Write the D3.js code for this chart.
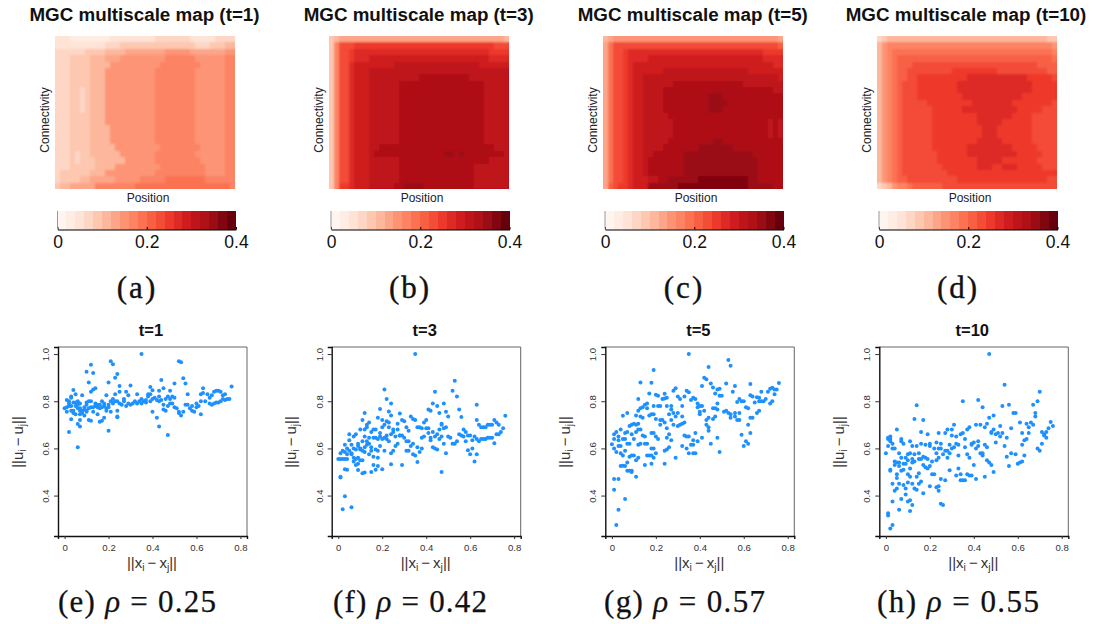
<!DOCTYPE html>
<html><head><meta charset="utf-8">
<script src="https://cdnjs.cloudflare.com/ajax/libs/d3/7.8.5/d3.min.js"></script>
<style>html,body{margin:0;padding:0;background:#fff}svg{display:block}text{font-family:"Liberation Sans",Arial,sans-serif}.cap{font-family:"Liberation Serif",serif}</style>
</head><body><div id="chart"></div>
<script>
const heatTitles=["MGC multiscale map (t=1)","MGC multiscale map (t=3)","MGC multiscale map (t=5)","MGC multiscale map (t=10)"];
const heatCaptions=["(a)","(b)","(c)","(d)"];
const scatterTitles=["t=1","t=3","t=5","t=10"];
const scatterCaptions=[["(e)","0.25"],["(f)","0.42"],["(g)","0.57"],["(h)","0.55"]];
const barTicks=[0,0.2,0.4];
const xTicks=[0,0.2,0.4,0.6,0.8];
const yTicks=[0.4,0.6,0.8,1.0];
const reds=["#fff5f0","#fee0d2","#fcbba1","#fc9272","#fb6a4a","#ef3b2c","#cb181d","#a50f15","#67000d"];

// heat levels: one character per cell, each step is 0.02 of the colour scale
const map1=["222111111112222222223333333222223333","222222222233344444444444444433344455","333333444455556666666677777666666677","333444455566677777777788888877777788","333444455557777777777888888887777788","333444455577777777778888888877777788","333444455577777777778888888877777788","333444455577777777778888888877777788","333443455577777777778888888877777788","333443455577777777778888888877777788","333443455577777777778888888877777788","333443455577777777778888888877777788","333444455577777777778888888877777788","333444455577777777778888888877777788","333444455557777777778888888877777788","333444455557777777778888888877777788","333444455557777777778888888877777788","333444455555777777777888888887777788","333434455555577777778888888877777788","333434445555557777778888888887777788","333444445555777777777888888888777788","344444455577777777778888888888777788","344445566666777778888899999999888888","455666668888888899999999999999999998"];
const map3=["456666666666666666666666666666666665","48bbbccccccccccccccccccccccccccccbbb","48bbcdddddddddddddddddddddddddddcccc","48bbcdddeeeeeeeeeeeeeeeeeeeeeeeedddd","48bbdeeeeeeeefffffffffffffffffeeeeee","48bbdeeeffffffffffffffffffffffffffff","48bbdeeeffffffffffggggggggggffffffff","48bbdeeeffffffgggggggggggggggggfffff","48bbdeeeffffffgggggggggggggggggfffff","48bbdeeeffffffgggggggggggggggggfffff","48bbdeeeffffffgggggggggggggggggfffff","48bbdeeeffffffgggggggggggggggggfffff","48bbdeeeffffffgggggggggggggggggfffff","48bbdeeeffffffgggggggggggggggggfffff","48bbdeeeffffffgggggggggggggggggfffff","48bbdeeeffffffgggggggggggggggggfffff","48bbdeeeffffffgggggggggggggggggfffff","48bbdeeeffgggggggggggggggggggggggfff","48bbdeeefgggggggggggggghhghggggggggff","48bbdeeeffffffggggggggggggggggggffff","48bbdeeeffffffgggggggggggggggfffffff","48bbdeeeffffffgggggggggggggggfffffff","48bbdeeeffffffgggggggggggggggfffffff","48ccdeeefffffgghhhhggggggggggfffffff"];
const map5=["567777777777777777777777777777777776","69bbbbbbbbbbbbbbbbbbbbbbbbbbbbbbbbba","69bbcdddddddddddddddddddddddddddcccc","69bbcddddeeeeeeeeeeeeeeeeeeeeeeedddd","69bbcdeeeeeeeeeeeeeeeeeeeeeeeeeeeedd","69bbcdeeeeeefffffffffffffffffeeeeeee","69bbcdeefffffffffffffffffffffffffffe","69bbcdeeffffffggggggggggggggffffffff","69bbcdeeffffggggggggggggggggggggggff","69bbcdeeffffggggggggghhhgggggggggggg","69bbcdeeffffggggggggghhhhggggggggggg","69bbcdeeffffggggggggghhhgggggggggggg","69bbcdeefffffggggggggggggggggggggggg","69bbcdeeffffffgggggggggggggggggggfgf","69bbcdeeffffffgggggggggggggggggggfgf","69bbcdeeffffffgggggggggggggggggggfgf","69bbcdeefffffggggggggghhgggggggggggg","69bbcdeeffffggggggghhhhhhhgggggggggg","69bbcdeeffgggggghhhhhhhhhhhhhhgggggg","69bbcdeefggggggghhhhhhhhhhhhhhhggggg","69bbcdeefggggggghhhhhhhhhhhhhhhggggg","69bbcdeefggggggghhhhhhhhhhhhhhhggggg","69bbcdeeeffgghhhhhhiiiiiiiiiihhgggggg","6abccdeeehhhhhhiiiiiiiiiiiiiihhhhhgg"];
const map10=["345555555555555555555555555555555544","578888888888888888888888888888888887","578999999999999999999999999999999998","5789aaaaaaaaaaaaaaaaaaaaaaaaaaaaaaa9","5789aaabbbbbbbbbbbbbbbbbbbbbbbbbaaaa","5789aabbbbbbbbbcccccccccbbbbbbbbbbaa","5789aabbccccccccccddddddddddddcccccb","5789abbbccccccccdddddddddddddddccccc","5789abbbccccccccdddddddddddddddccccc","5789abbbcccccccccddddddddddddccccccc","5789abbbbbcccccccccddddddddccccccccb","5789abbbbbbccccccdddddddddddcccccbbb","5789abbbbbbcccccccccdddddddccccbbbbb","5789abbbbbbcccccccccdddddccccccbbbbb","5789abbbbbbccccccccccdddcccccccbbbbb","5789abbbbbbccccccccccdddcccccccbbbbb","5789abbbbbbcccccccccdddddccccccbbbbb","5789abbbbbbcccccccdddddddddcccccbbbb","5789abbbbbbbccccccddddddddddcccccbbb","5789abbbbbbbccccccccdddddcccccccbbbb","5789abbbbbbbbcccccccdddccdddcccccbbb","5789abbbbbbbbbcccccccccccccccccccccc","5789aabbbbbbbbbbccccccccccccccccccbb","3457889aaaaaabbbbbbbbbbbbbbbbbbbbbbb"];
const heatMaps=[map1,map3,map5,map10];

const pts1=[[.35,1],[.12,.955],[.21,.97],[.22,.957],[.52,.97],[.53,.965],[.1,.925],[.13,.92],[.24,.916],[.23,.9],[.44,.89],[.54,.898],[.11,.88],[.2,.88],[.55,.875],[.5,.875],[.3,.867],[.25,.865],[.76,.862],[.14,.855],[.13,.85],[.12,.84],[.63,.855],[.45,.855],[.39,.86],[.4,.847],[.04,.848],[.43,.845],[.48,.845],
[.06,.605],[.02,.67],[.2,.675],[.47,.657],[.43,.693],[.07,.693],[.06,.703],[.42,.73],[.03,.724],[.07,.72],[.11,.72],[.12,.717],[.16,.713],[.17,.717],[.24,.732],[.18,.73],[.4,.755],[.62,.745],[.52,.755],[.53,.74],[.24,.735],
[0,.77],[.01,.775],[.01,.755],[.01,.805],[.02,.79],[.02,.78],[.02,.8],[.03,.76],[.03,.78],[.03,.815],[.03,.82],[.04,.795],[.04,.75],[.04,.76],[.05,.83],[.05,.78],[.05,.745],[.05,.795],[.06,.8],[.06,.77],[.06,.785],[.07,.79],[.07,.77],[.07,.76],[.07,.745],[.08,.76],[.08,.75],[.08,.825],[.09,.74],[.09,.765],[.09,.775],[.1,.76],[.1,.785],[.1,.755],[.1,.795],[.11,.77],[.11,.8],[.12,.775],[.12,.8],[.13,.775],[.13,.755],[.14,.79],[.14,.78],[.15,.775],[.15,.745],[.15,.785],[.16,.77],[.16,.785],[.17,.775],[.17,.8],[.18,.79],[.18,.78],[.19,.825],[.19,.77],[.19,.76],[.2,.785],[.2,.775],[.21,.8],[.21,.755],[.22,.79],[.22,.81],[.23,.8],[.23,.83],[.24,.8],[.24,.76],[.25,.79],[.25,.84],[.26,.785],[.27,.8],[.27,.81],[.28,.84],[.28,.78],[.29,.79],[.29,.825],[.3,.785],[.31,.79],[.32,.8],[.33,.79],[.33,.83],[.34,.8],[.35,.79],[.35,.81],[.36,.8],[.37,.805],[.37,.795],[.38,.82],[.38,.83],[.39,.8],[.39,.83],[.4,.81],[.41,.815],[.42,.805],[.43,.8],[.43,.82],[.44,.805],[.45,.785],[.45,.765],[.46,.76],[.46,.81],[.47,.82],[.47,.78],[.48,.79],[.48,.81],[.49,.82],[.49,.79],[.5,.815],[.5,.775],[.51,.77],[.52,.75],[.54,.755],[.55,.785],[.56,.83],[.56,.785],[.57,.77],[.58,.78],[.58,.76],[.59,.755],[.6,.775],[.6,.79],[.61,.78],[.62,.8],[.62,.83],
[.63,.835],[.64,.8],[.65,.83],[.66,.815],[.66,.79],[.67,.785],[.67,.825],[.68,.84],[.68,.79],[.69,.845],[.69,.795],[.7,.845],[.7,.795],[.71,.84],[.71,.8],[.72,.825],[.72,.81],[.73,.83],[.73,.805],[.74,.81],[.75,.81]];

const pts3=[[.35,1],[.21,.85],[.53,.887],[.52,.845],[.44,.84],[.22,.81],[.54,.82],[.24,.79],[.43,.79],[.48,.79],[.45,.78],[.63,.785],[.19,.767],[.55,.765],[.41,.765],[.42,.76],[.23,.757],[.46,.75],[.49,.755],[.24,.74],[.5,.735],[.56,.733],[.28,.748],[.12,.75],[.76,.738],
[.02,.342],[.06,.35],[.03,.397],[.01,.48],[.01,.477],[.03,.512],[.04,.51],[.09,.508],[.11,.495],[.12,.498],[.15,.5],[.17,.51],[.2,.512],[.47,.5],[.29,.53],[.24,.533],[.16,.53],[.18,.525],[.36,.542],[.62,.545],[.49,.58],[.6,.575],[.63,.575],[.59,.592],[.61,.6],
[.65,.69],[.66,.69],[.67,.69],[.68,.7],[.69,.7],[.7,.7],[.71,.72],[.72,.71],[.73,.7],[.65,.64],[.66,.64],[.67,.64],[.68,.645],[.69,.645],[.7,.645],[.71,.622],[.72,.66],[.73,.66],[.74,.67],[.75,.685],[.64,.7],[.64,.63],[.63,.72],
[0,.555],[.01,.555],[.01,.58],[.02,.555],[.02,.59],[.03,.555],[.03,.585],[.03,.615],[.04,.575],[.04,.555],[.04,.6],[.05,.66],[.05,.635],[.05,.59],[.06,.58],[.06,.575],[.06,.615],[.07,.65],[.07,.6],[.07,.56],[.07,.545],[.08,.66],[.08,.595],[.08,.555],[.08,.53],[.09,.61],[.09,.62],[.09,.56],[.09,.535],[.1,.68],[.1,.6],[.1,.595],[.1,.55],[.11,.72],[.11,.63],[.11,.59],[.11,.55],[.12,.68],[.12,.65],[.12,.605],[.12,.585],[.13,.7],[.13,.69],[.13,.63],[.13,.615],[.14,.71],[.14,.645],[.14,.62],[.14,.575],[.15,.67],[.15,.605],[.15,.59],[.16,.68],[.16,.645],[.16,.565],[.17,.68],[.17,.645],[.17,.595],[.18,.73],[.18,.64],[.18,.59],[.18,.56],[.19,.665],[.19,.65],[.19,.61],[.2,.72],[.2,.69],[.2,.64],[.21,.7],[.21,.645],[.21,.59],[.22,.715],[.22,.655],[.22,.64],[.23,.71],[.23,.69],[.23,.63],[.24,.66],[.24,.58],[.25,.68],[.25,.67],[.25,.59],[.26,.65],[.26,.61],[.27,.705],[.27,.68],[.27,.62],[.28,.655],[.28,.655],[.29,.72],[.29,.655],[.3,.715],[.3,.645],[.31,.69],[.31,.63],[.31,.59],[.32,.675],[.32,.63],[.32,.59],[.33,.735],[.33,.61],[.34,.725],[.34,.62],[.34,.575],[.35,.72],[.35,.57],[.36,.69],[.36,.605],[.37,.69],[.37,.585],[.38,.685],[.38,.645],[.38,.6],[.39,.71],[.39,.65],[.4,.72],[.4,.685],[.41,.665],[.41,.685],[.42,.645],[.42,.635],[.43,.67],[.43,.605],[.44,.65],[.44,.6],[.45,.66],[.45,.595],[.46,.68],[.46,.64],[.47,.705],[.47,.65],[.47,.7],[.48,.685],[.48,.62],[.49,.69],[.5,.65],[.51,.645],[.52,.62],[.53,.62],[.54,.63],[.55,.66],[.56,.655],[.57,.68],[.57,.65],[.58,.67],[.58,.63],[.59,.655],[.6,.655],[.61,.635],[.62,.65],[.63,.64]];

const pts5=[[.35,1],[.53,.975],[.54,.95],[.44,.945],[.19,.933],[.42,.9],[.43,.893],[.13,.88],[.18,.878],[.45,.875],[.52,.875],[.63,.873],[.41,.865],[.56,.865],[.46,.858],[.29,.855],[.28,.845],[.34,.845],[.35,.838],[.55,.84],[.49,.853],[.48,.85],[.24,.832],[.17,.833],[.2,.827],[.21,.823],[.47,.833],[.49,.823],[.5,.823],[.63,.825],[.64,.82],[.66,.817],[.67,.815],[.68,.84],[.71,.84],[.72,.853],[.73,.857],[.74,.85],[.75,.85],[.76,.877],[.74,.83],[.73,.8],[.72,.79],[.68,.8],[.69,.8],[.7,.81],[.67,.8],[.12,.81],[.3,.82],[.31,.81],[.33,.82],[.37,.815],[.38,.81],[.36,.805],[.23,.81],[.24,.812],[.25,.815],[.58,.81],[.57,.797],[.59,.8],[.6,.8],[.61,.775],[.62,.77],[.65,.795],[.66,.75],[.67,.76],[.64,.73],[.16,.79],[.15,.785],[.14,.775],[.12,.76],[.13,.77],[.16,.77],[.19,.78],[.21,.78],[.22,.78],[.25,.78],[.27,.78],[.27,.765],[.32,.78],[.39,.79],[.4,.78],[.41,.78],[.39,.775],[.4,.755],[.4,.745],[.42,.76],[.46,.77],[.47,.77],[.48,.765],[.48,.79],[.51,.755],[.52,.76],[.53,.75],[.54,.745],[.56,.75],[.58,.75],[.57,.72],
[.07,.75],[.05,.738],[.11,.74],[.13,.735],[.14,.73],[.17,.74],[.18,.745],[.19,.745],[.26,.745],[.28,.75],[.3,.75],[.29,.735],[.32,.735],[.44,.73],[.43,.72],[.43,.7],[.44,.69],[.44,.675],[.46,.725],[.47,.735],[.54,.73],[.56,.735],[.58,.72],[.63,.73],[.62,.7],[.63,.665],[.59,.658],[.6,.61],[.61,.63],[.62,.62],[.45,.62],[.49,.585],[.48,.645],[.41,.645],[.38,.665],[.37,.635],[.39,.63],[.35,.65],[.34,.65],[.33,.655],[.32,.61],[.34,.6],[.35,.58],[.37,.615],[.36,.615],[.37,.58],[.38,.58],[.29,.56],[.25,.595],[.24,.59],[.24,.535],[.26,.605],[.27,.635],[.26,.66],[.25,.645],[.19,.665],
[.02,.275],[.03,.34],[.06,.385],[.01,.425],[.01,.47],[.03,.47],[.11,.48],[.07,.505],[.08,.505],[.09,.505],[.09,.5],[.04,.525],[.05,.527],[.06,.525],[.07,.54],[.05,.57],[.04,.58],[.02,.585],[.01,.6],[0,.618],[.01,.64],[.01,.66],[.02,.67],[.03,.65],[.04,.68],[.05,.64],[.06,.64],[.06,.665],[.07,.67],[.07,.62],[.08,.62],[.03,.61],[.04,.61],[.03,.635],[.06,.59],[.08,.565],[.09,.57],[.1,.57],[.11,.55],[.12,.56],[.1,.64],[.09,.66],[.08,.695],[.09,.7],[.1,.705],[.11,.7],[.12,.705],[.12,.68],[.13,.68],[.11,.67],[.12,.615],[.13,.62],[.15,.65],[.14,.655],[.15,.62],[.16,.62],[.17,.57],[.18,.57],[.18,.535],[.15,.53],[.16,.57],[.19,.56],[.2,.58],[.19,.6],[.18,.6],[.18,.665],[.2,.65],[.21,.64],[.22,.7],[.23,.72],[.24,.71],[.2,.725],[.22,.72],[.25,.685],[.27,.72],[.28,.7],[.3,.695],[.31,.7],[.32,.705],[.33,.71]];

const pts10=[[.47,1],[.54,.87],[.7,.84],[.69,.8],[.35,.8],[.42,.805],[.14,.783],[.44,.775],[.53,.78],[.56,.785],[.67,.785],[.59,.75],[.58,.75],[.68,.75],[.68,.735],[.13,.725],[.17,.72],[.47,.73],[.49,.74],[.61,.71],[.64,.705],[.66,.71],[.75,.712],[.76,.695],[.05,.68],
[.02,.26],[.03,.275],[.01,.315],[.01,.325],[.11,.335],[.06,.34],[.03,.375],[.1,.375],[.11,.38],[.12,.36],[.07,.385],[.09,.405],[.25,.365],[.26,.36],[.17,.41],[.24,.42],[.04,.42],[.05,.43],[.06,.45],[.03,.45],[.08,.445],[.09,.43],[.12,.45],[.13,.43],[.14,.425],[.15,.45],[.16,.46],[.2,.44],[.23,.435],[.24,.44],[.25,.47],[.27,.465],[.29,.507],[.33,.515],[.32,.485],[.34,.49],[.34,.465],[.35,.465],[.36,.465],[.37,.49],[.38,.485],[.39,.485],[.41,.47],[.45,.48],[.49,.5],[.48,.53],[.46,.55],[.47,.54],[.4,.53],
[0,.58],[.01,.61],[.01,.64],[.01,.645],[.02,.64],[.02,.65],[.02,.63],[.02,.51],[.02,.505],[.03,.62],[.03,.6],[.04,.6],[.04,.545],[.04,.53],[.05,.54],[.05,.475],[.05,.49],[.06,.58],[.06,.54],[.06,.525],[.07,.64],[.07,.63],[.07,.56],[.07,.505],[.08,.62],[.08,.535],[.08,.51],[.09,.56],[.09,.535],[.1,.55],[.1,.575],[.1,.455],[.1,.49],[.11,.63],[.11,.58],[.11,.515],[.11,.48],[.12,.61],[.12,.555],[.12,.54],[.13,.575],[.13,.545],[.14,.61],[.14,.48],[.15,.58],[.15,.555],[.15,.495],[.16,.67],[.16,.62],[.16,.555],[.17,.565],[.17,.53],[.18,.615],[.18,.56],[.18,.52],[.19,.66],[.19,.555],[.19,.515],[.2,.62],[.2,.61],[.2,.525],[.21,.545],[.21,.49],[.22,.6],[.22,.49],[.23,.625],[.23,.58],[.23,.55],[.24,.665],[.24,.6],[.24,.56],[.25,.62],[.25,.6],[.26,.575],[.27,.665],[.27,.59],[.28,.68],[.28,.59],[.28,.56],[.29,.615],[.29,.58],[.3,.68],[.3,.655],[.3,.6],[.31,.7],[.31,.605],[.32,.65],[.32,.62],[.33,.57],[.33,.615],[.34,.66],[.35,.665],[.36,.64],[.36,.605],[.37,.68],[.37,.575],[.38,.69],[.38,.56],[.39,.62],[.39,.615],[.4,.625],[.41,.7],[.41,.6],[.42,.63],[.42,.61],[.43,.7],[.43,.58],[.44,.57],[.44,.58],[.45,.69],[.45,.615],[.46,.705],[.46,.605],[.48,.67],[.48,.665],[.49,.68],[.5,.625],[.5,.66],[.51,.665],[.52,.695],[.52,.65],[.53,.665],[.54,.61],[.55,.645],[.55,.565],[.56,.525],[.57,.685],[.57,.58],[.59,.575],[.6,.535],[.61,.54],[.62,.615],[.62,.545],[.62,.665],[.63,.635],[.63,.57],[.64,.64],[.65,.69],[.65,.665],[.67,.7],[.69,.6],[.7,.59],[.71,.67],[.71,.62],[.72,.66],[.72,.655],[.73,.645],[.73,.67],[.74,.685]];
const scatterData=[pts1,pts3,pts5,pts10];

const W=1097,H=624;
const heatLeft=[55,329,603,877], barLeft=[57.5,331,605,879], boxLeft=[58,331.7,605.3,879.3];
const heatTitleX=[144.5,418.7,692.8,966], capX=[137,410,684,958];
const capSpan=[[58,216],[333,487],[604,765],[877,1039]];

const svg=d3.select("#chart").append("svg").attr("width",W).attr("height",H).attr("viewBox",`0 0 ${W} ${H}`);
svg.append("rect").attr("width",W).attr("height",H).attr("fill","#fff");

const defs=svg.append("defs");
const soft=defs.append("filter").attr("id","soft").attr("x","-5%").attr("y","-5%").attr("width","110%").attr("height","110%");
soft.append("feGaussianBlur").attr("in","SourceGraphic").attr("stdDeviation",1.3).attr("result","b");
const merge=soft.append("feMerge");
merge.append("feMergeNode").attr("in","SourceGraphic");
merge.append("feMergeNode").attr("in","b");

const ramp=d3.piecewise(d3.interpolateRgb,reds);
const levels=d3.range(20);
const colors=levels.map(i=>ramp(i/19));
const color=d3.scaleQuantize().domain([0,0.4]).range(colors);
const levelOf=c=>parseInt(c,36);

heatMaps.forEach((rowsRaw,p)=>{
  const rows=rowsRaw.map(r=>r.slice(0,36));
  const x=d3.scaleBand().domain(d3.range(36)).range([heatLeft[p],heatLeft[p]+180]);
  const y=d3.scaleBand().domain(d3.range(rows.length)).range([36,189]);
  const cells=rows.flatMap((r,i)=>Array.from(r).map((c,j)=>({i,j,v:(levelOf(c)+.5)*0.02})));
  defs.append("clipPath").attr("id","hc"+p).append("rect").attr("x",heatLeft[p]).attr("y",36).attr("width",180).attr("height",153);
  svg.append("g").attr("clip-path",`url(#hc${p})`).append("g").attr("filter","url(#soft)").attr("shape-rendering","crispEdges").selectAll("rect").data(cells).join("rect")
    .attr("x",d=>x(d.j)).attr("y",d=>y(d.i)).attr("width",x.bandwidth()).attr("height",y.bandwidth())
    .attr("fill",d=>color(d.v));
  svg.append("text").attr("x",heatTitleX[p]).attr("y",20.5).attr("text-anchor","middle").attr("font-size",18.8).attr("font-weight","bold").attr("fill","#111").text(heatTitles[p]);
  svg.append("text").attr("x",heatLeft[p]+93).attr("y",202).attr("text-anchor","middle").attr("font-size",12).attr("fill","#222").text("Position");
  svg.append("text").attr("transform",`translate(${heatLeft[p]-6.5},120) rotate(-90)`).attr("text-anchor","middle").attr("font-size",12).attr("fill","#222").text("Connectivity");
  // colour bar
  const bx=d3.scaleLinear().domain([0,0.4]).range([barLeft[p],barLeft[p]+178.5]);
  const bar=svg.append("g");
  bar.append("g").attr("shape-rendering","crispEdges").selectAll("rect").data(levels).join("rect")
    .attr("x",d=>bx(d*0.02)).attr("y",211).attr("width",bx(0.02)-bx(0)+.3).attr("height",18.5).attr("fill",d=>colors[d]);
  const ax=bar.append("g").attr("transform","translate(0,229.5)").call(d3.axisBottom(bx).tickValues(barTicks).tickSize(-2.5).tickSizeOuter(0).tickFormat(d=>d===0?"0":d3.format(".1f")(d)));
  ax.select(".domain").attr("stroke","#000").attr("stroke-width",1.2);
  ax.selectAll("text").attr("font-size",17.5).attr("font-family","Liberation Sans").attr("fill","#111").attr("y",6).attr("dy","0.72em");
  bar.append("line").attr("x1",bx(0)).attr("x2",bx(0)).attr("y1",211).attr("y2",229).attr("stroke","#999");
  svg.append("text").attr("class","cap").attr("x",capX[p]).attr("y",298).attr("text-anchor","middle").attr("font-size",31).attr("letter-spacing",2).attr("fill","#111").attr("stroke","#111").attr("stroke-width",.35).text(heatCaptions[p]);
});

function subLabel(sel,a,b){
  sel.append("tspan").text("||"+a);
  sel.append("tspan").attr("font-size",10.5).attr("dy",3).text("i");
  sel.append("tspan").attr("dy",-3).text("\u2009\u2212\u2009"+b);
  sel.append("tspan").attr("font-size",10.5).attr("dy",3).text("j");
  sel.append("tspan").attr("dy",-3).text("||");
}

scatterData.forEach((pts,p)=>{
  const L=boxLeft[p],R=L+189,T=347,B=536;
  const x=d3.scaleLinear().domain([-0.03,0.83]).range([L,R]);
  const y=d3.scaleLinear().domain([0.2286,1.03]).range([B,T]);
  const g=svg.append("g");
  g.append("path").attr("d",`M${L},${T}H${R}V${B}`).attr("fill","none").attr("stroke","#666").attr("stroke-width",1);
  const ax=g.append("g").attr("transform",`translate(0,${B})`).call(d3.axisBottom(x).tickValues(xTicks).tickSize(3).tickFormat(d=>d===0?"0":d3.format(".1f")(d)));
  ax.select(".domain").attr("stroke","#111").attr("stroke-width",1.4);
  ax.selectAll(".tick line").attr("stroke","#333");
  ax.selectAll("text").attr("font-size",9.6).attr("font-family","Liberation Sans").attr("fill","#333").attr("y",8);
  const ay=g.append("g").attr("transform",`translate(${L},0)`).call(d3.axisLeft(y).tickValues(yTicks).tickSize(4).tickFormat(d3.format(".1f")));
  ay.select(".domain").attr("stroke","#111").attr("stroke-width",1.4);
  ay.selectAll(".tick line").attr("stroke","#333");
  ay.selectAll("text").attr("font-size",9.6).attr("font-family","Liberation Sans").attr("fill","#333").attr("text-anchor","middle").attr("dy",0).attr("x",0).attr("y",0)
    .attr("transform","translate(-9,0) rotate(-90)");
  g.append("g").selectAll("circle").data(pts).join("circle").attr("cx",d=>x(d[0])).attr("cy",d=>y(d[1])).attr("r",2).attr("fill","#1e90ff");
  svg.append("text").attr("x",L+93).attr("y",335.5).attr("text-anchor","middle").attr("font-size",16.5).attr("font-weight","bold").attr("fill","#111").text(scatterTitles[p]);
  subLabel(svg.append("text").attr("x",L+94).attr("y",568).attr("text-anchor","middle").attr("font-size",15).attr("fill","#333"),"x","x");
  subLabel(svg.append("text").attr("transform",`translate(${L-35.5},442) rotate(-90)`).attr("text-anchor","middle").attr("font-size",15).attr("fill","#333"),"u","u");
  const cap=svg.append("text").attr("class","cap").attr("x",capSpan[p][0]).attr("y",612).attr("font-size",31).attr("fill","#111").attr("stroke","#111").attr("stroke-width",.25).attr("textLength",capSpan[p][1]-capSpan[p][0]).attr("lengthAdjust","spacing");
  cap.append("tspan").text(scatterCaptions[p][0]+" ");
  cap.append("tspan").attr("font-style","italic").text("\u03c1");
  cap.append("tspan").text(" = "+scatterCaptions[p][1]);
});
</script></body></html>
